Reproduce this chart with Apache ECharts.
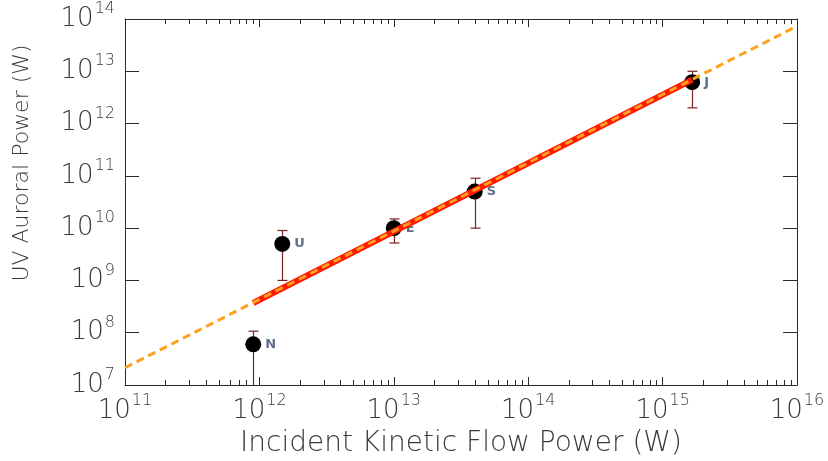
<!DOCTYPE html>
<html><head><meta charset="utf-8">
<script src="https://cdn.jsdelivr.net/npm/echarts@6/dist/echarts.min.js"></script>
<style>html,body{margin:0;padding:0;background:#fff}#c{width:828px;height:461px}</style>
</head><body><div id="c"></div>
<script>
// ---- data ----
const planetNames = ['N', 'U', 'E', 'S', 'J'];
const flowPower = [9.0e11, 1.48e12, 1.0e13, 4.0e13, 1.66e15];   // incident kinetic flow power (W)
const uvPower = [6.0e7, 5.0e9, 1.0e10, 5.0e10, 6.2e12];          // UV auroral power (W)
const uvErrHigh = [1.07e8, 9.0e9, 1.5e10, 9.0e10, 1.0e13];
const uvErrLow = [1.0e6, 1.0e9, 5.2e9, 1.0e10, 2.0e12];          // N extends below the axis
const fitLineX = [1e11, 1e16];
const fitLineY = [2.14e7, 7.3e13];
const fitSegX = [9.0e11, 1.66e15];
const fitSegY = [3.7e8, 6.9e12];
const xTickExponents = [11, 12, 13, 14, 15, 16];
const yTickExponents = [7, 8, 9, 10, 11, 12, 13, 14];
const minorMultipliers = [2, 3, 4, 5, 6, 7, 8, 9];

const xMin = Math.pow(10, xTickExponents[0]);
const xMax = Math.pow(10, xTickExponents[xTickExponents.length - 1]);
const yMin = Math.pow(10, yTickExponents[0]);
const yMax = Math.pow(10, yTickExponents[yTickExponents.length - 1]);

const FONT = '"DejaVu Sans", sans-serif';
const TXT = '#3a3a3a';
const AX = '#2a2a2a';

function powLabel(v) {
  const e = Math.round(Math.log10(v));
  return '{b|10}{s|' + e + '}';
}
const richSup = {
  b: { fontSize: 26, lineHeight: 36, fontFamily: FONT, color: TXT, fontWeight: 200 },
  s: { fontSize: 16, lineHeight: 16, fontFamily: FONT, color: TXT, verticalAlign: 'top', fontWeight: 200, padding: [0, 0, 0, 1] }
};

const minorTicks = [];
xTickExponents.slice(0, -1).forEach(function (e) {
  minorMultipliers.forEach(function (m) { minorTicks.push([m * Math.pow(10, e), yMin]); });
});

const errData = flowPower.map(function (x, i) { return [x, uvErrLow[i], uvErrHigh[i]]; });
const ptData = flowPower.map(function (x, i) { return [x, uvPower[i]]; });

const chart = echarts.init(document.getElementById('c'), null, { renderer: 'canvas' });

const baseX = {
  type: 'log', logBase: 10, min: xMin, max: xMax, interval: 1,
  axisLine: { show: true, lineStyle: { color: AX, width: 1 } },
  axisTick: { show: true, inside: true, length: 8, lineStyle: { color: AX } },
  splitLine: { show: false }, minorTick: { show: false }
};
const baseY = {
  type: 'log', logBase: 10, min: yMin, max: yMax, interval: 1,
  axisLine: { show: true, lineStyle: { color: AX, width: 1 } },
  axisTick: { show: true, inside: true, length: 14, lineStyle: { color: AX } },
  splitLine: { show: false }, minorTick: { show: false }
};

chart.setOption({
  backgroundColor: '#ffffff',
  animation: false,
  grid: { left: 125, right: 31, top: 19, bottom: 76, containLabel: false, outerBoundsMode: 'none' },
  xAxis: [
    Object.assign({}, baseX, {
      position: 'bottom',
      axisLabel: { show: true, margin: 8, formatter: powLabel, rich: richSup },
      name: 'Incident Kinetic Flow Power (W)', nameLocation: 'middle', nameGap: 45,
      nameTextStyle: { fontFamily: FONT, fontSize: 28, color: TXT, fontWeight: 200 }
    }),
    Object.assign({}, baseX, { position: 'top', axisLabel: { show: false } })
  ],
  yAxis: [
    Object.assign({}, baseY, {
      position: 'left',
      axisLabel: { show: true, margin: 10, formatter: powLabel, rich: richSup }
    }),
    Object.assign({}, baseY, { position: 'right', axisLabel: { show: false } })
  ],
  graphic: [{
    type: 'text', x: 22, y: 163, rotation: Math.PI / 2,
    style: { text: 'UV Auroral Power (W)', font: '200 22px ' + FONT, fill: TXT, align: 'center', verticalAlign: 'middle' }
  }],
  series: [
    {
      type: 'custom', name: 'minor ticks', data: minorTicks, silent: true, clip: false, z: 1,
      renderItem: function (params, api) {
        const v = api.value(0);
        const b = api.coord([v, yMin]);
        const t = api.coord([v, yMax]);
        const x = Math.round(b[0]) + 0.5;
        return { type: 'group', children: [
          { type: 'line', shape: { x1: x, y1: b[1], x2: x, y2: b[1] - 5 }, style: { stroke: AX, lineWidth: 1 } },
          { type: 'line', shape: { x1: x, y1: t[1], x2: x, y2: t[1] + 5 }, style: { stroke: AX, lineWidth: 1 } }
        ] };
      }
    },
    {
      type: 'custom', name: 'error bars', data: errData, clip: true, z: 2,
      encode: { x: 0, y: [1, 2] },
      renderItem: function (params, api) {
        const x = api.value(0);
        const lo = api.coord([x, api.value(1)]);
        const hi = api.coord([x, api.value(2)]);
        const px = Math.round(lo[0]) + 0.5;
        const cw = 5;
        const st = { stroke: '#7a2222', lineWidth: 1.2 };
        return { type: 'group', children: [
          { type: 'line', shape: { x1: px, y1: lo[1], x2: px, y2: hi[1] }, style: st },
          { type: 'line', shape: { x1: px - cw, y1: hi[1], x2: px + cw, y2: hi[1] }, style: st },
          { type: 'line', shape: { x1: px - cw, y1: lo[1], x2: px + cw, y2: lo[1] }, style: st }
        ] };
      }
    },
    {
      type: 'scatter', name: 'planets', data: ptData, z: 3,
      symbol: 'circle', symbolSize: 16,
      itemStyle: { color: '#000000', opacity: 1 },
      label: {
        show: true, position: 'right', distance: 4,
        formatter: function (p) { return planetNames[p.dataIndex]; },
        fontFamily: FONT, fontSize: 13, fontWeight: 'bold', color: '#5e6f87'
      }
    },
    {
      type: 'line', name: 'fit segment', z: 4, symbol: 'none',
      data: fitSegX.map(function (x, i) { return [x, fitSegY[i]]; }),
      lineStyle: { color: '#ff1a00', width: 6, cap: 'butt' }
    },
    {
      type: 'line', name: 'fit', z: 5, symbol: 'none',
      data: fitLineX.map(function (x, i) { return [x, fitLineY[i]]; }),
      lineStyle: { color: '#ffa01e', width: 3, type: [8, 5] }
    }
  ]
});
</script>
</body></html>
